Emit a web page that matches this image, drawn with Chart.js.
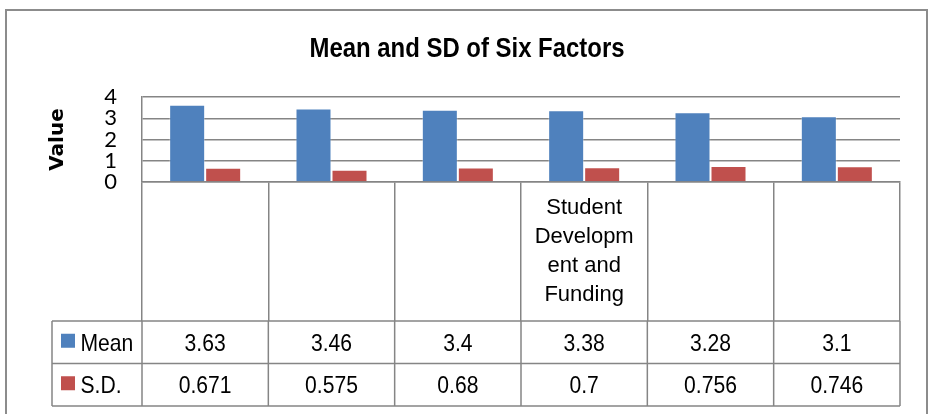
<!DOCTYPE html>
<html>
<head>
<meta charset="utf-8">
<script src="https://cdn.jsdelivr.net/npm/chart.js@4/dist/chart.umd.min.js"></script>
<style>
  html, body { margin: 0; padding: 0; background: #ffffff; }
  #wrap { width: 930px; height: 414px; position: relative; }
</style>
</head>
<body>
<div id="wrap"><canvas id="chart" width="930" height="414"></canvas></div>
<script>
// Factor categories (only one name is printed on the axis; it wraps into four lines)
const categories = ['', '', '', ['Student', 'Developm', 'ent and', 'Funding'], '', ''];
const seriesNames = ['Mean', 'S.D.'];
const meanValues = [3.63, 3.46, 3.4, 3.38, 3.28, 3.1];
const sdValues = [0.671, 0.575, 0.68, 0.7, 0.756, 0.746];
const yTickValues = [0, 1, 2, 3, 4];
const chartTitle = 'Mean and SD of Six Factors';

const BLUE = '#4F81BD';
const RED = '#C0504D';
const LINE = '#858585';
const SANS = "'Liberation Sans', Arial, sans-serif";

// Narrow-looking text: regular sans squeezed horizontally
function narrowText(ctx, text, x, y, font, align, sx) {
  ctx.save();
  ctx.translate(x, y);
  ctx.scale(sx, 1);
  ctx.font = font;
  ctx.textAlign = align;
  ctx.textBaseline = 'alphabetic';
  ctx.fillText(text, 0, 0);
  ctx.restore();
}

// Outer frame, heading and the data table under the category axis
const dataTablePlugin = {
  id: 'dataTable',
  beforeDraw(chart) {
    const ctx = chart.ctx;
    ctx.save();
    ctx.fillStyle = '#ffffff';
    ctx.fillRect(0, 0, chart.width, chart.height);
    ctx.strokeStyle = '#8c8c8c';
    ctx.lineWidth = 2;
    ctx.strokeRect(6, 10, 921, 430);
    ctx.fillStyle = '#000000';
    narrowText(ctx, chartTitle, 467, 57, 'bold 27.5px ' + SANS, 'center', 0.87);
    ctx.restore();
  },
  afterDraw(chart) {
    const ctx = chart.ctx;
    const xs = chart.scales.x;
    const n = chart.data.labels.length;
    const colW = (xs.right - xs.left) / n;
    const rowTop = chart.chartArea.bottom + 139;
    const rowH = 42.5;
    const tableLeft = 52;
    ctx.save();
    ctx.strokeStyle = LINE;
    ctx.lineWidth = 1.5;
    ctx.beginPath();
    for (let r = 0; r <= 2; r++) {
      const y = rowTop + r * rowH;
      ctx.moveTo(tableLeft, y);
      ctx.lineTo(xs.right, y);
    }
    ctx.moveTo(tableLeft, rowTop);
    ctx.lineTo(tableLeft, rowTop + 2 * rowH);
    for (let i = 0; i <= n; i++) {
      const x = xs.left + i * colW;
      ctx.moveTo(x, rowTop);
      ctx.lineTo(x, rowTop + 2 * rowH);
    }
    ctx.stroke();

    const font = '24px ' + SANS;
    chart.data.datasets.forEach((ds, r) => {
      const cy = rowTop + r * rowH + rowH / 2;
      const base = cy + 8.5;
      ctx.fillStyle = ds.backgroundColor;
      ctx.fillRect(61, cy - 8.5, 14, 14);
      ctx.fillStyle = '#000000';
      narrowText(ctx, ds.label, 80.5, base, font, 'left', 0.88);
      ds.data.forEach((v, i) => {
        narrowText(ctx, String(v), xs.getPixelForValue(i), base, font, 'center', 0.88);
      });
    });
    ctx.restore();
  }
};

new Chart(document.getElementById('chart'), {
  type: 'bar',
  data: {
    labels: categories,
    datasets: [
      { label: seriesNames[0], data: meanValues, backgroundColor: BLUE, borderColor: 'rgba(255,255,255,0.3)', borderWidth: 1 },
      { label: seriesNames[1], data: sdValues, backgroundColor: RED, borderColor: 'rgba(255,255,255,0.3)', borderWidth: 1 }
    ]
  },
  options: {
    responsive: false,
    animation: false,
    devicePixelRatio: 1,
    categoryPercentage: 0.57,
    barPercentage: 1.0,
    layout: { padding: { top: 97, left: 6, right: 30, bottom: 0 } },
    plugins: {
      legend: { display: false },
      tooltip: { enabled: false },
      title: { display: false }
    },
    scales: {
      x: {
        grid: { display: true, drawOnChartArea: false, drawTicks: true, tickLength: 139, color: LINE, lineWidth: 1.5, offset: true },
        border: { display: true, color: LINE, width: 1.5 },
        ticks: {
          padding: -128, maxRotation: 0, minRotation: 0, autoSkip: false,
          color: '#000000',
          font: { family: SANS, size: 22, lineHeight: 1.32 }
        },
        afterFit(scale) { scale.height = 232; }
      },
      y: {
        min: yTickValues[0],
        max: yTickValues[yTickValues.length - 1],
        afterBuildTicks(scale) { scale.ticks = yTickValues.map(v => ({ value: v })); },
        ticks: { padding: 25, autoSkip: false, color: '#000000', font: { family: "Lato, 'Open Sans', sans-serif", size: 22 } },
        grid: { color: LINE, lineWidth: 1.5, drawTicks: false },
        border: { display: true, color: LINE, width: 1.5 },
        title: {
          display: true, text: 'Value', color: '#000000',
          font: { family: 'DejaVu Sans', size: 20, weight: 'bold', lineHeight: 1.2 },
          padding: { top: 40, bottom: 0 }
        },
        afterFit(scale) { scale.width = 136; }
      }
    }
  },
  plugins: [dataTablePlugin]
});
</script>
</body>
</html>
